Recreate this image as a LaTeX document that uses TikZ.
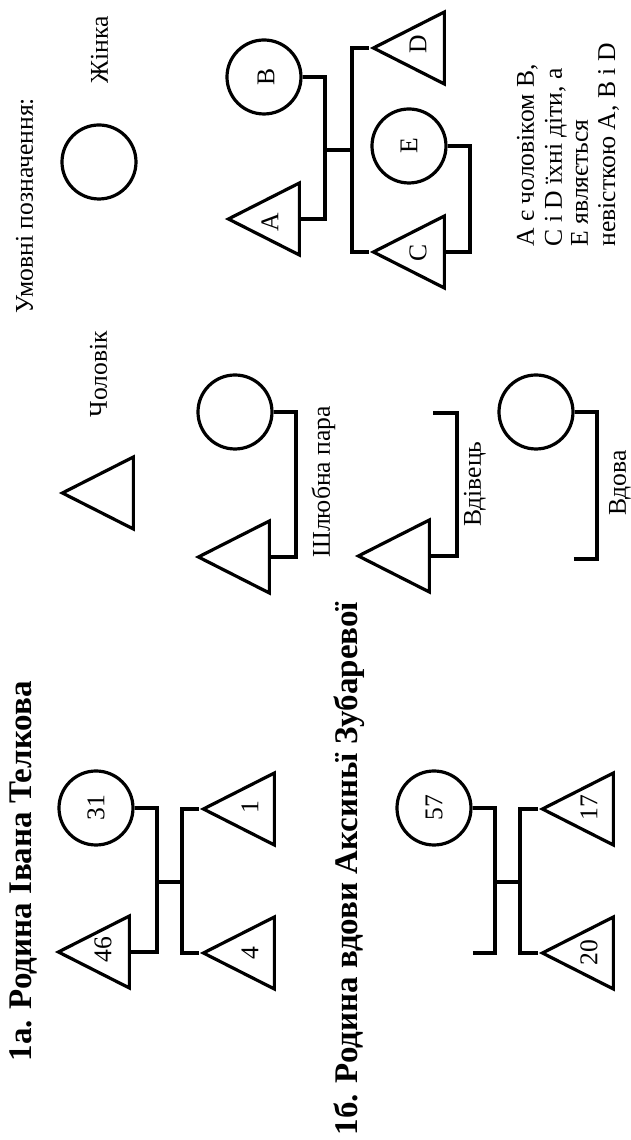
\documentclass[tikz,border=0pt]{standalone}
\usepackage{fontspec}
\setmainfont{Liberation Serif}
\usetikzlibrary{shapes.geometric}
\tikzset{
  man/.style={draw, isosceles triangle, shape border rotate=90, isosceles triangle stretches,
    minimum width=36pt, minimum height=35.5pt, inner sep=0pt, anchor=south},
  woman/.style={draw, circle, minimum size=37pt, inner sep=0pt},
  num/.style={font=\fontsize{12.8}{14}\selectfont, inner sep=0pt},
  note/.style={font=\fontsize{12.8}{13.5}\selectfont, inner sep=0pt, anchor=base west},
  heading/.style={font=\bfseries\fontsize{16.5}{18}\selectfont, inner sep=0pt, anchor=base west},
}
\begin{document}
\begin{tikzpicture}[x=0.5pt, y=0.5pt, rotate=90, transform shape, line width=1.6pt]
\useasboundingbox (0,0) rectangle (1140,631);
% titles
\node[heading] (title1) at (77,599) {1а. Родина Івана Телкова};
\node[heading] (title2) at (3,273) {1б. Родина вдови Аксиньї Зубаревої};
% family 1a
\node[man] (t46) at (188,500) {};
\node[woman] (w31) at (332,535) {};
\node[man] (c4) at (187,355) {};
\node[man] (c1) at (331,355) {};
\node[num] (n46) at (190,528) {46};
\node[num] (n31) at (332,535) {31};
\node[num] (n4) at (187,381) {4};
\node[num] (n1) at (333,381) {1};
\coordinate (mar1) at (258,474);
\coordinate (sib1) at (258,449);
\draw (t46.south) |- (mar1) -| (w31.south);
\draw (mar1) -- (sib1);
\draw (c4.apex) |- (sib1) -| (c1.apex);
% family 1b
\node[woman] (w57) at (332,197) {};
\node[man] (c20) at (187,16) {};
\node[man] (c17) at (331,16) {};
\node[num] (n57) at (332,197) {57};
\node[num] (n20) at (187,42) {20};
\node[num] (n17) at (332,42) {17};
\coordinate (mar2) at (258,136);
\coordinate (sib2) at (258,111);
\coordinate (gone2) at (187,158);
\draw (gone2) |- (mar2) -| (w57.south);
\draw (mar2) -- (sib2);
\draw (c20.apex) |- (sib2) -| (c17.apex);
% legend
\node[note] (legend) at (825,598) {Умовні позначення:};
\node[man] (lman) at (647,496) {};
\node[note, anchor=base] (lmantxt) at (766,524) {Чоловік};
\node[woman] (lwoman) at (978,532) {};
\node[note, anchor=base] (lwomantxt) at (1090,523) {Жінка};
% couple
\node[man] (pm) at (583,360) {};
\node[woman] (pw) at (728,396) {};
\coordinate (mar3) at (655,335);
\draw (pm.south) |- (mar3) -| (pw.south);
\node[note, anchor=base] (pairtxt) at (658,301) {Шлюбна пара};
% widower and widow
\node[man] (wm) at (584,200) {};
\coordinate (mar4) at (655,174);
\coordinate (gone4) at (727,198);
\draw (wm.south) |- (mar4) -| (gone4);
\node[note, anchor=base] (wmtxt) at (656,150) {Вдівець};
\node[woman] (ww) at (728,95) {};
\coordinate (mar5) at (655,34);
\coordinate (gone5) at (581,57);
\draw (gone5) |- (mar5) -| (ww.south);
\node[note, anchor=base] (wwtxt) at (657,5) {Вдова};
% example family
\node[man] (tA) at (921,330) {};
\node[woman] (cB) at (1063,367) {};
\node[man] (tC) at (888,185) {};
\node[man] (tD) at (1092,185) {};
\node[woman] (cE) at (994,222) {};
\node[num] (nA) at (918,361) {A};
\node[num] (nB) at (1063,365) {B};
\node[num] (nC) at (887,213) {C};
\node[num] (nD) at (1096,213) {D};
\node[num] (nE) at (994,222) {E};
\coordinate (marAB) at (990,306);
\coordinate (sibAB) at (990,279);
\coordinate (marCE) at (942,161);
\draw (tA.south) |- (marAB) -| (cB.south);
\draw (marAB) -- (sibAB);
\draw (tC.apex) |- (sibAB) -| (tD.apex);
\draw (tC.south) |- (marCE) -| (cE.south);
% explanation
\node[note] (expl1) at (892,97) {А є чоловіком В,};
\node[note] (expl2) at (892,69) {С і D їхні діти, а};
\node[note] (expl3) at (892,43) {Е являється};
\node[note] (expl4) at (892,16) {невісткою А, В і D};
\end{tikzpicture}
\end{document}
